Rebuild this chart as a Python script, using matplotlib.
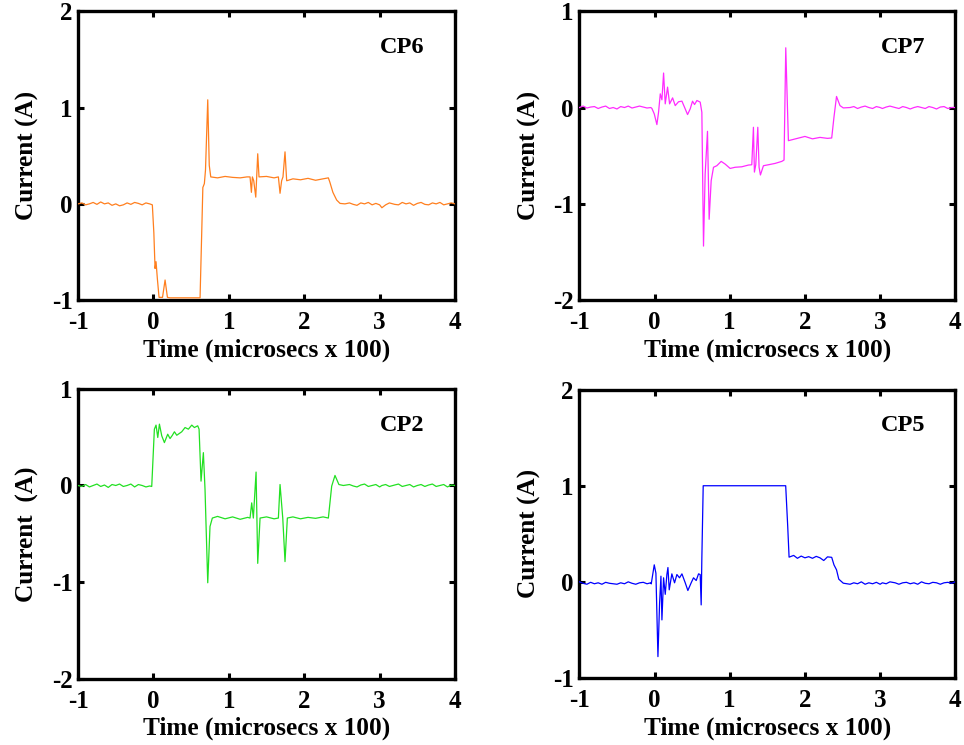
import numpy as np
import matplotlib
matplotlib.use("Agg")
import matplotlib.pyplot as plt

plt.rcParams.update({
    "font.family": ["Liberation Serif", "DejaVu Serif"],
    "font.weight": "bold",
    "axes.unicode_minus": False,
})

# ---- data (time in microsecs x 100, current in A) ----
base_left_t = [-1.0, -0.95, -0.9, -0.85, -0.8, -0.75, -0.7, -0.65, -0.6, -0.55,
               -0.5, -0.45, -0.4, -0.35, -0.3, -0.25, -0.2, -0.15, -0.1, -0.05]
base_right_t = [2.6, 2.65, 2.7, 2.75, 2.8, 2.85, 2.9, 2.95, 3.0, 3.03, 3.08, 3.13,
                3.2, 3.25, 3.3, 3.35, 3.4, 3.45, 3.5, 3.55, 3.6, 3.65, 3.7, 3.75,
                3.8, 3.85, 3.9, 3.95, 4.0]

# CP6
cp6_left = [0.0, 0.01, -0.01, 0.0, 0.015, -0.005, 0.02, 0.0, 0.01, -0.015,
            0.0, -0.02, -0.01, 0.01, -0.005, 0.015, 0.005, -0.01, 0.01, 0.0]
cp6_mid_t = [-0.015, 0.005, 0.021, 0.034, 0.052, 0.074, 0.12, 0.154, 0.185, 0.22,
             0.4, 0.618, 0.64, 0.655, 0.675, 0.69, 0.72, 0.74, 0.76, 0.85, 0.95,
             1.05, 1.15, 1.24, 1.281, 1.299, 1.312, 1.33, 1.357, 1.383, 1.4, 1.5,
             1.6, 1.657, 1.679, 1.70, 1.718, 1.745, 1.767, 1.85, 1.95, 2.05, 2.15,
             2.25, 2.32, 2.34, 2.38, 2.43, 2.475, 2.54]
cp6_mid_i = [-0.01, -0.3, -0.67, -0.60, -0.78, -0.97, -0.97, -0.79, -0.97, -0.975,
             -0.975, -0.975, -0.3, 0.17, 0.21, 0.35, 1.08, 0.40, 0.28, 0.27, 0.285,
             0.275, 0.27, 0.28, 0.28, 0.12, 0.28, 0.24, 0.07, 0.52, 0.28, 0.285,
             0.27, 0.28, 0.11, 0.24, 0.28, 0.54, 0.24, 0.26, 0.25, 0.265, 0.245,
             0.26, 0.27, 0.225, 0.12, 0.04, 0.005, 0.0]
cp6_right = [0.01, -0.005, -0.015, 0.01, 0.0, 0.015, -0.01, 0.005, -0.01, -0.04, -0.01,
             0.01, -0.005, -0.01, 0.015, 0.0, 0.01, -0.015, 0.005, 0.015, -0.005, -0.01,
             0.01, 0.0, 0.015, -0.01, 0.0, 0.01, 0.0]

# CP7
cp7_left = [0.0, 0.015, -0.005, 0.005, 0.01, -0.01, 0.005, 0.015, -0.01, 0.0,
            -0.015, 0.01, 0.0, 0.015, -0.005, 0.005, 0.015, 0.005, -0.005, 0.0]
cp7_mid_t = [-0.035, -0.004, 0.031, 0.053, 0.076, 0.098, 0.12, 0.142, 0.173, 0.2,
             0.24, 0.275, 0.319, 0.364, 0.40, 0.439, 0.474, 0.505, 0.532, 0.563,
             0.607, 0.629, 0.651, 0.673, 0.704, 0.726, 0.753, 0.784, 0.828, 0.886,
             0.939, 1.005, 1.072, 1.16, 1.249, 1.293, 1.315, 1.328, 1.346, 1.373,
             1.39, 1.408, 1.448, 1.514, 1.603, 1.692, 1.722, 1.745, 1.78, 1.9,
             2.0, 2.1, 2.2, 2.3, 2.356, 2.386, 2.42, 2.466, 2.51]
cp7_mid_i = [-0.01, -0.066, -0.177, -0.05, 0.142, 0.08, 0.358, 0.038, 0.212, 0.038,
             0.10, 0.02, 0.06, 0.066, 0.0, -0.073, -0.014, 0.066, 0.031, 0.073,
             0.056, -0.049, -1.438, -0.69, -0.247, -1.16, -0.76, -0.62, -0.604,
             -0.559, -0.587, -0.632, -0.62, -0.615, -0.597, -0.594, -0.205, -0.67,
             -0.594, -0.205, -0.62, -0.70, -0.604, -0.594, -0.58, -0.559, -0.545,
             0.62, -0.344, -0.32, -0.30, -0.325, -0.31, -0.32, -0.316, -0.1, 0.115,
             0.02, -0.004]
cp7_right = [0.0, 0.01, -0.01, 0.005, 0.015, 0.0, -0.01, 0.01, 0.0, -0.01, 0.005,
             0.015, 0.0, -0.01, 0.01, 0.0, -0.015, 0.0, 0.01, 0.0, -0.01, 0.01,
             0.0, -0.015, 0.005, 0.01, -0.01, 0.0, 0.0]

# CP2
cp2_left = [0.0, -0.01, 0.01, -0.015, 0.0, 0.015, -0.01, 0.005, -0.02, 0.01,
            0.0, 0.015, -0.01, 0.0, 0.015, -0.015, 0.01, 0.0, -0.015, -0.005]
cp2_mid_t = [-0.023, 0.012, 0.034, 0.057, 0.079, 0.11, 0.145, 0.189, 0.22, 0.251,
             0.278, 0.309, 0.375, 0.419, 0.463, 0.508, 0.543, 0.587, 0.605, 0.631,
             0.662, 0.684, 0.698, 0.72, 0.75, 0.781, 0.85, 0.95, 1.05, 1.15, 1.25,
             1.281, 1.303, 1.325, 1.361, 1.383, 1.414, 1.5, 1.6, 1.657, 1.679,
             1.715, 1.745, 1.776, 1.85, 1.95, 2.05, 2.15, 2.25, 2.32, 2.364, 2.408,
             2.46, 2.519]
cp2_mid_i = [-0.01, 0.583, 0.625, 0.497, 0.635, 0.514, 0.444, 0.531, 0.486, 0.52,
             0.556, 0.52, 0.556, 0.60, 0.583, 0.625, 0.60, 0.618, 0.583, 0.045,
             0.34, -0.042, -0.424, -1.007, -0.424, -0.337, -0.32, -0.345, -0.325,
             -0.35, -0.33, -0.337, -0.18, -0.337, 0.139, -0.806, -0.337, -0.325,
             -0.345, -0.337, 0.01, -0.337, -0.788, -0.337, -0.325, -0.345, -0.33,
             -0.34, -0.325, -0.337, -0.007, 0.104, 0.01, 0.0]
cp2_right = [0.01, -0.005, -0.015, 0.005, 0.015, -0.01, 0.0, 0.01, -0.015, 0.0, 0.01,
             -0.01, 0.005, 0.015, -0.01, 0.0, 0.01, -0.015, 0.0, 0.01, -0.01, 0.005,
             0.015, -0.01, 0.0, 0.01, -0.015, 0.005, 0.0]

# CP5
cp5_left = [0.0, -0.015, -0.025, -0.005, -0.02, -0.01, -0.025, -0.005, -0.015, -0.02,
            -0.025, -0.01, -0.02, 0.0, -0.015, -0.025, -0.01, -0.005, -0.02, -0.01]
cp5_mid_t = [-0.044, -0.004, 0.018, 0.045, 0.067, 0.085, 0.098, 0.12, 0.142, 0.164,
             0.178, 0.195, 0.23, 0.266, 0.297, 0.332, 0.364, 0.408, 0.443, 0.487,
             0.518, 0.554, 0.585, 0.607, 0.62, 0.629, 0.647, 1.0, 1.4, 1.744, 1.771,
             1.789, 1.85, 1.9, 1.95, 2.0, 2.05, 2.1, 2.15, 2.2, 2.25, 2.3, 2.356,
             2.386, 2.42, 2.45, 2.51]
cp5_mid_i = [-0.021, 0.177, 0.09, -0.778, -0.22, 0.059, -0.396, 0.042, -0.13, 0.076,
             0.149, -0.083, 0.083, -0.01, 0.076, 0.042, 0.083, -0.01, -0.09, -0.01,
             0.042, 0.014, 0.083, 0.076, -0.24, 0.247, 1.0, 1.0, 1.0, 1.0, 0.576,
             0.257, 0.275, 0.245, 0.268, 0.25, 0.262, 0.245, 0.265, 0.25, 0.222, 0.26,
             0.255, 0.177, 0.125, 0.028, -0.014]
cp5_right = [-0.025, -0.01, -0.02, 0.0, -0.025, -0.01, -0.02, -0.005, -0.025, -0.01,
             -0.02, 0.0, -0.01, -0.025, -0.01, -0.005, -0.02, -0.01, -0.025, 0.0,
             -0.015, -0.02, -0.005, -0.01, -0.025, -0.01, -0.005, -0.015, 0.0]

names = ["CP6", "CP7", "CP2", "CP5"]
colors = ["#ff7f1e", "#ff2bff", "#22e022", "#0000ff"]
ylims = [(-1, 2), (-2, 1), (-2, 1), (-1, 2)]
ylabels = ["Current (A)", "Current (A)", "Current  (A)", "Current (A)"]
series = [(cp6_left, cp6_mid_t, cp6_mid_i, cp6_right),
          (cp7_left, cp7_mid_t, cp7_mid_i, cp7_right),
          (cp2_left, cp2_mid_t, cp2_mid_i, cp2_right),
          (cp5_left, cp5_mid_t, cp5_mid_i, cp5_right)]

positions = [[0.081, 0.597, 0.391, 0.388], [0.601, 0.597, 0.390, 0.388],
             [0.081, 0.089, 0.391, 0.389], [0.601, 0.090, 0.390, 0.387]]

fig = plt.figure(figsize=(9.64, 7.45), dpi=100)

for k in range(4):
    ax = fig.add_axes(positions[k])
    left, mid_t, mid_i, right = series[k]
    t = np.concatenate([base_left_t, mid_t, base_right_t])
    i = np.concatenate([left, mid_i, right])
    ax.plot(t, i, color=colors[k], lw=0.9, zorder=3)
    ax.set_xlim(-1, 4)
    ax.set_ylim(*ylims[k])
    ax.set_xticks(range(-1, 5))
    ax.set_yticks(range(ylims[k][0], ylims[k][1] + 1))
    for s in ax.spines.values():
        s.set_linewidth(2.4)
    ax.tick_params(direction="in", top=True, right=True, length=4, width=2.2,
                   labelsize=18, pad=4)
    ax.tick_params(axis="x", pad=8)
    ax.set_xlabel("Time (microsecs x 100)", fontsize=18.2, fontweight="bold", labelpad=3)
    ax.set_ylabel(ylabels[k], fontsize=18.2, fontweight="bold", labelpad=9)
    ax.text(0.86, 0.875, names[k], transform=ax.transAxes, ha="center", va="center",
            fontsize=17.5, fontweight="bold")

fig.savefig("out.png", dpi=100)
